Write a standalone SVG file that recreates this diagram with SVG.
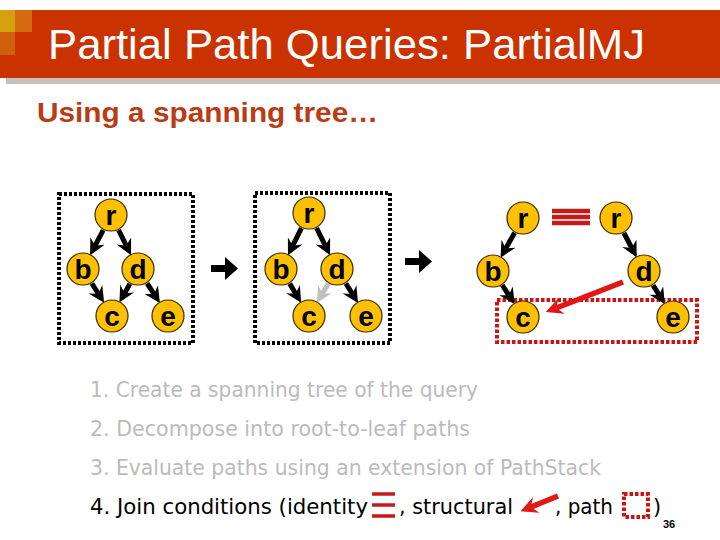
<svg xmlns="http://www.w3.org/2000/svg" width="720" height="540" viewBox="0 0 720 540">
<style>
.node circle{fill:#FFC000;stroke:#3a2a00;stroke-width:1.2}
.node text{font-family:"Liberation Sans",Arial,sans-serif;font-weight:bold;font-size:28px;fill:#000;text-anchor:middle}
.blk{stroke:#000;stroke-width:5;fill:none;marker-end:url(#ah)}
.gry{stroke:#C0C0C0;stroke-width:5;fill:none;marker-end:url(#ahg)}
.red{stroke:#E01818;stroke-width:5.5;fill:none;marker-end:url(#ahr)}
.dotb{fill:none;stroke:#000;stroke-width:4;stroke-dasharray:3 2}
.dotr{fill:none;stroke:#CC1414;stroke-width:4;stroke-dasharray:3.5 2}
.item{font-family:"DejaVu Sans",sans-serif;font-size:21px}
</style>
<defs>
<marker id="ah" markerUnits="userSpaceOnUse" markerWidth="16" markerHeight="16" viewBox="0 0 15 15" refX="5" refY="7.5" orient="auto"><path d="M0,0 L15,7.5 L0,15 L5,7.5 z" fill="#000"/></marker>
<marker id="ahg" markerUnits="userSpaceOnUse" markerWidth="16" markerHeight="16" viewBox="0 0 15 15" refX="5" refY="7.5" orient="auto"><path d="M0,0 L15,7.5 L0,15 L5,7.5 z" fill="#C0C0C0"/></marker>
<marker id="ahr" markerUnits="userSpaceOnUse" markerWidth="17" markerHeight="17" viewBox="0 0 15 15" refX="5" refY="7.5" orient="auto"><path d="M0,0 L15,7.5 L0,15 L5,7.5 z" fill="#E01818"/></marker>
</defs>
<rect width="720" height="540" fill="#fff"/>
<g id="header">
<rect x="0" y="10" width="720" height="68" fill="#CA3300"/>
<rect x="6" y="78" width="714" height="6" fill="#C8C0BC"/>
<rect x="0" y="10" width="15" height="22" fill="#D4A010"/>
<rect x="15" y="10" width="17" height="22" fill="#D66A10"/>
<rect x="0" y="32" width="15" height="23" fill="#D0600C"/>
<text x="48" y="59" font-family="Liberation Sans,Arial,sans-serif" font-size="43" fill="#fff" textLength="597" lengthAdjust="spacingAndGlyphs">Partial Path Queries: PartialMJ</text>
</g>
<text x="37" y="122" font-family="Liberation Sans,Arial,sans-serif" font-size="28" font-weight="bold" fill="#B83C14" textLength="341" lengthAdjust="spacingAndGlyphs">Using a spanning tree…</text>
<g id="boxes">
<rect class="dotb" x="59" y="194" width="134" height="149"/>
<rect class="dotb" x="255" y="193" width="135" height="150"/>
<rect class="dotr" x="497" y="300" width="200" height="42"/>
</g>
<g id="connectors">
<path class="blk" d="M103.2,230.1 L95,245.8"/>
<path class="blk" d="M118.6,230.2 L126.3,245.7"/>
<path class="blk" d="M91.9,283.5 L98.4,293.8"/>
<path class="blk" d="M129.8,283.9 L124.6,293.2"/>
<path class="blk" d="M147.1,283.3 L154.1,294.1"/>
<path class="blk" d="M301.4,228.2 L292.7,245.7"/>
<path class="blk" d="M316.6,228.2 L325.3,245.7"/>
<path class="blk" d="M289.7,283.6 L295.7,293.7"/>
<path class="gry" d="M328.3,283.6 L322.3,293.7"/>
<path class="blk" d="M345.9,283.5 L352.4,293.9"/>
<path class="blk" d="M514.6,232.8 L505.8,248.4"/>
<path class="blk" d="M502.3,285.2 L508.9,295.3"/>
<path class="blk" d="M623.9,233 L631.8,248"/>
<path class="blk" d="M653.1,285.4 L659.2,295.1"/>
<path class="red" d="M623,282 L556.3,308"/>
<g stroke="#C41A1A" stroke-width="4.5">
<line x1="552" y1="211" x2="590" y2="211"/>
<line x1="552" y1="217" x2="590" y2="217"/>
<line x1="552" y1="223" x2="590" y2="223"/>
</g>
<path d="M211,265 h14 v-8 l13,11.5 l-13,11.5 v-8 h-14 z" fill="#000"/>
<path d="M405,258 h14 v-8 l13,11.5 l-13,11.5 v-8 h-14 z" fill="#000"/>
</g>
<g id="g1r" class="node"><circle cx="111" cy="215" r="16"/><text x="111" y="225">r</text></g>
<g id="g1b" class="node"><circle cx="83" cy="269" r="16"/><text x="83" y="279">b</text></g>
<g id="g1d" class="node"><circle cx="138" cy="269" r="16"/><text x="138" y="279">d</text></g>
<g id="g1c" class="node"><circle cx="112" cy="316" r="16"/><text x="112" y="326">c</text></g>
<g id="g1e" class="node"><circle cx="168" cy="316" r="16"/><text x="168" y="326">e</text></g>
<g id="g2r" class="node"><circle cx="309" cy="213" r="16"/><text x="309" y="223">r</text></g>
<g id="g2b" class="node"><circle cx="281" cy="269" r="16"/><text x="281" y="279">b</text></g>
<g id="g2d" class="node"><circle cx="337" cy="269" r="16"/><text x="337" y="279">d</text></g>
<g id="g2c" class="node"><circle cx="309" cy="316" r="16"/><text x="309" y="326">c</text></g>
<g id="g2e" class="node"><circle cx="366" cy="316" r="16"/><text x="366" y="326">e</text></g>
<g id="g3r1" class="node"><circle cx="523" cy="218" r="16"/><text x="523" y="228">r</text></g>
<g id="g3r2" class="node"><circle cx="616" cy="218" r="16"/><text x="616" y="228">r</text></g>
<g id="g3b" class="node"><circle cx="493" cy="271" r="16"/><text x="493" y="281">b</text></g>
<g id="g3d" class="node"><circle cx="644" cy="271" r="16"/><text x="644" y="281">d</text></g>
<g id="g3c" class="node"><circle cx="523" cy="317" r="16"/><text x="523" y="327">c</text></g>
<g id="g3e" class="node"><circle cx="673" cy="317" r="16"/><text x="673" y="327">e</text></g>
<g id="list">
<text class="item" x="90" y="397" fill="#BBBBBB" textLength="388" lengthAdjust="spacingAndGlyphs">1. Create a spanning tree of the query</text>
<text class="item" x="90" y="436" fill="#BBBBBB" textLength="380" lengthAdjust="spacingAndGlyphs">2. Decompose into root-to-leaf paths</text>
<text class="item" x="90" y="475" fill="#BBBBBB" textLength="511" lengthAdjust="spacingAndGlyphs">3. Evaluate paths using an extension of PathStack</text>
<text class="item" x="90" y="514" fill="#000" textLength="278" lengthAdjust="spacingAndGlyphs">4. Join conditions (identity</text>
<g stroke="#C41A1A" stroke-width="3.5">
<line x1="372" y1="494" x2="395" y2="494"/>
<line x1="372" y1="505" x2="395" y2="505"/>
<line x1="372" y1="516" x2="395" y2="516"/>
</g>
<text class="item" x="399" y="514" fill="#000" textLength="114" lengthAdjust="spacingAndGlyphs">, structural</text>
<path class="red" d="M558,496 L531,507" stroke-width="4"/>
<text class="item" x="555" y="514" fill="#000" textLength="58" lengthAdjust="spacingAndGlyphs">, path</text>
<rect class="dotr" x="624" y="494" width="24" height="23" stroke-width="3.5"/>
<text class="item" x="653" y="514" fill="#000">)</text>
<text x="663" y="528" font-family="Liberation Sans,Arial,sans-serif" font-size="11" font-weight="bold" fill="#000">36</text>
</g>
</svg>
